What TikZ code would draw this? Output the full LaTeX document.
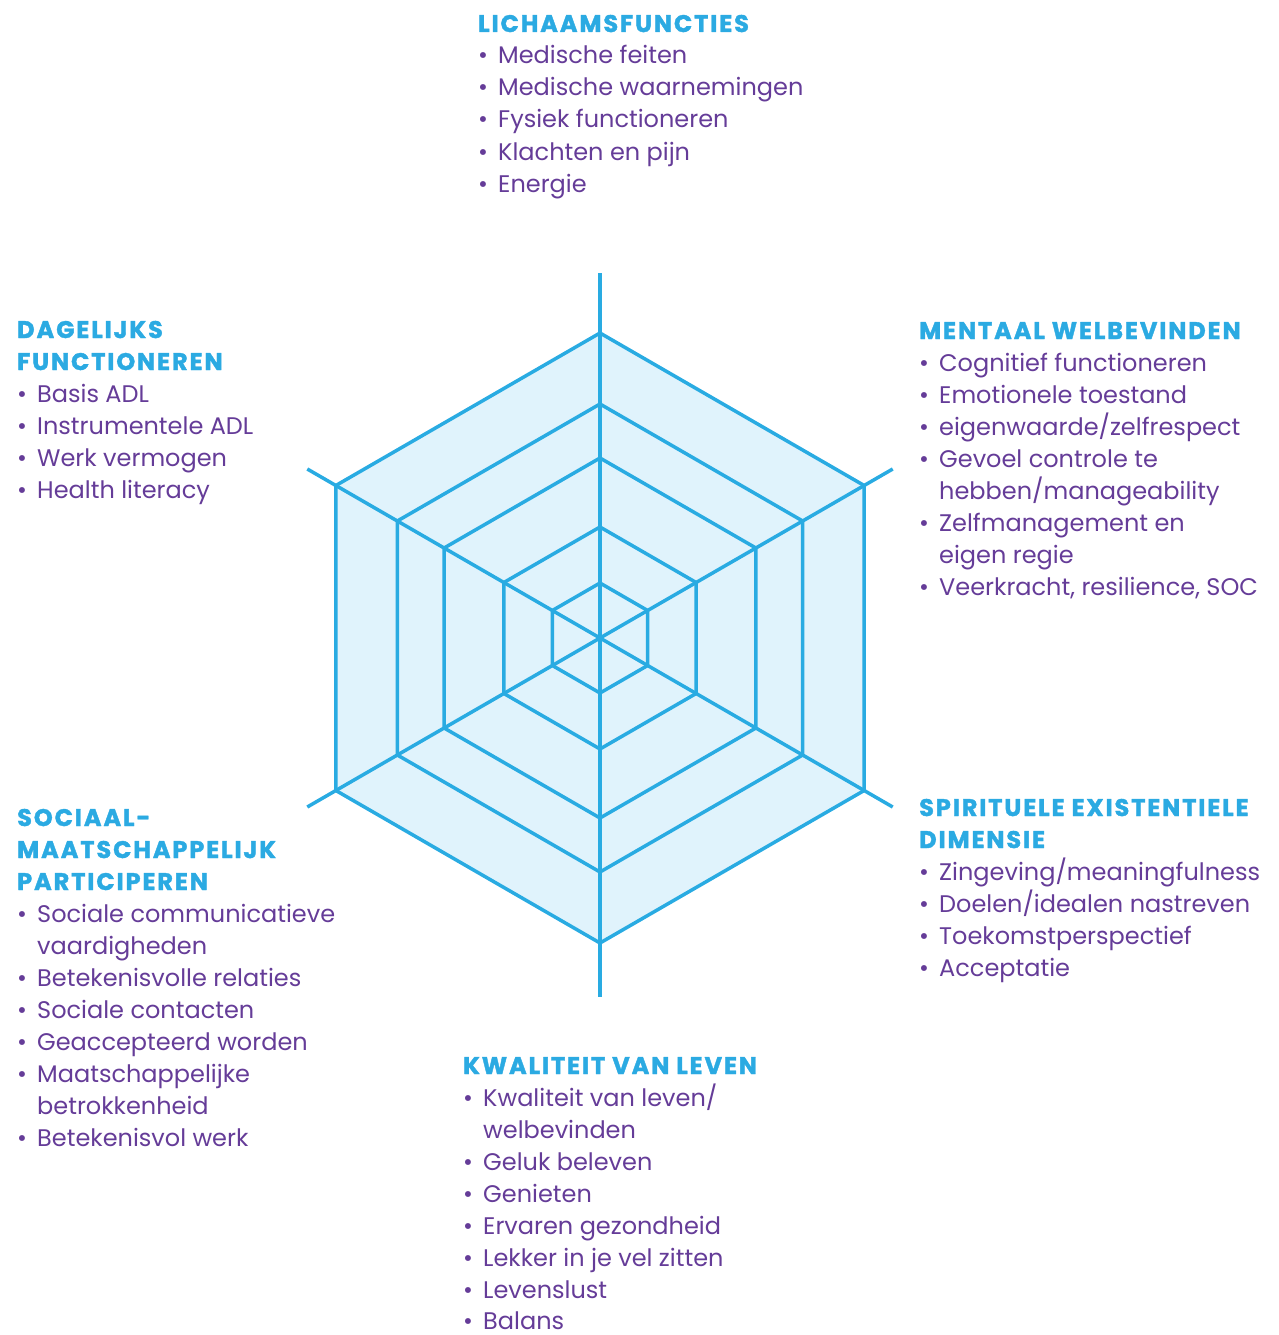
\documentclass[tikz,border=0pt]{standalone}
\usepackage{fontspec}
\setmainfont{Poppins}
\newfontfamily\headfont{Poppins}[LetterSpace=8,FakeBold=1.6]
\usetikzlibrary{calc}
\definecolor{lineblue}{HTML}{29ABE2}
\definecolor{fillblue}{HTML}{E0F3FC}
\definecolor{headblue}{HTML}{2BAAE2}
\definecolor{itempurple}{HTML}{653C98}
\newcommand\bul{\makebox[20pt][l]{•}}
\begin{document}
\begin{tikzpicture}[x=1pt,y=-1pt,
  web/.style={draw=lineblue,line width=3.5pt,line join=miter},
  spoke/.style={draw=lineblue,line width=3.5pt},
  head/.style={anchor=base west,inner sep=0pt,text=headblue,font=\headfont\fontsize{24}{32}\selectfont\bfseries},
  item/.style={anchor=base west,inner sep=0pt,text=itempurple,font=\fontsize{24}{32}\selectfont},
  cont/.style={item,xshift=20pt}]
\useasboundingbox (0,0) rectangle (1278,1335);
\coordinate (c) at (600,638);
% filled outer hexagon
\fill[fillblue] ($(c)+(30:305)$) \foreach \a in {90,150,210,270,330} {-- ($(c)+(\a:305)$)} -- cycle;
% rings
\foreach \r in {305,234,180,111,55}
  \draw[web] ($(c)+(30:\r)$) \foreach \a in {90,150,210,270,330} {-- ($(c)+(\a:\r)$)} -- cycle;
% spokes
\coordinate (sT) at (600,273);
\coordinate (sB) at (600,997);
\coordinate (sUR) at ($(c)+(-30:338)$);
\coordinate (sLR) at ($(c)+(30:338)$);
\coordinate (sLL) at ($(c)+(150:338)$);
\coordinate (sUL) at ($(c)+(210:338)$);
\foreach \p in {sT,sB,sUR,sLR,sLL,sUL} \draw[spoke] (c) -- (\p);

% top block
\node[head] (h1) at (478,32) {LICHAAMSFUNCTIES};
\node[item] (h1a) at (478,64) {\bul Medische feiten};
\node[item] (h1b) at (478,96) {\bul Medische waarnemingen};
\node[item] (h1c) at (478,128) {\bul Fysiek functioneren};
\node[item] (h1d) at (478,160) {\bul Klachten en pijn};
\node[item] (h1e) at (478,192) {\bul Energie};

% upper right
\node[head] (h2) at (919,339) {MENTAAL WELBEVINDEN};
\node[item] (h2a) at (919,371) {\bul Cognitief functioneren};
\node[item] (h2b) at (919,403) {\bul Emotionele toestand};
\node[item] (h2c) at (919,435) {\bul eigenwaarde/zelfrespect};
\node[item] (h2d) at (919,467) {\bul Gevoel controle te};
\node[cont] (h2d2) at (919,499) {hebben/manageability};
\node[item] (h2e) at (919,531) {\bul Zelfmanagement en};
\node[cont] (h2e2) at (919,563) {eigen regie};
\node[item] (h2f) at (919,595) {\bul Veerkracht, resilience, SOC};

% upper left
\node[head] (h3) at (17,338) {DAGELIJKS};
\node[head] (h3b) at (17,370) {FUNCTIONEREN};
\node[item] (h3a) at (17,402) {\bul Basis ADL};
\node[item] (h3c) at (17,434) {\bul Instrumentele ADL};
\node[item] (h3d) at (17,466) {\bul Werk vermogen};
\node[item] (h3e) at (17,498) {\bul Health literacy};

% lower right
\node[head] (h4) at (919,816) {SPIRITUELE EXISTENTIELE};
\node[head] (h4b) at (919,848) {DIMENSIE};
\node[item] (h4a) at (919,880) {\bul Zingeving/meaningfulness};
\node[item] (h4c) at (919,912) {\bul Doelen/idealen nastreven};
\node[item] (h4d) at (919,944) {\bul Toekomstperspectief};
\node[item] (h4e) at (919,976) {\bul Acceptatie};

% lower left
\node[head] (h5) at (17,826) {SOCIAAL-};
\node[head] (h5b) at (17,858) {MAATSCHAPPELIJK};
\node[head] (h5c) at (17,890) {PARTICIPEREN};
\node[item] (h5a) at (17,922) {\bul Sociale communicatieve};
\node[cont] (h5a2) at (17,954) {vaardigheden};
\node[item] (h5d) at (17,986) {\bul Betekenisvolle relaties};
\node[item] (h5e) at (17,1018) {\bul Sociale contacten};
\node[item] (h5f) at (17,1050) {\bul Geaccepteerd worden};
\node[item] (h5g) at (17,1082) {\bul Maatschappelijke};
\node[cont] (h5g2) at (17,1114) {betrokkenheid};
\node[item] (h5h) at (17,1146) {\bul Betekenisvol werk};

% bottom
\node[head] (h6) at (463,1074) {KWALITEIT VAN LEVEN};
\node[item] (h6a) at (463,1106) {\bul Kwaliteit van leven/};
\node[cont] (h6a2) at (463,1138) {welbevinden};
\node[item] (h6b) at (463,1170) {\bul Geluk beleven};
\node[item] (h6c) at (463,1202) {\bul Genieten};
\node[item] (h6d) at (463,1234) {\bul Ervaren gezondheid};
\node[item] (h6e) at (463,1266) {\bul Lekker in je vel zitten};
\node[item] (h6f) at (463,1298) {\bul Levenslust};
\node[item] (h6g) at (463,1329) {\bul Balans};
\end{tikzpicture}
\end{document}
